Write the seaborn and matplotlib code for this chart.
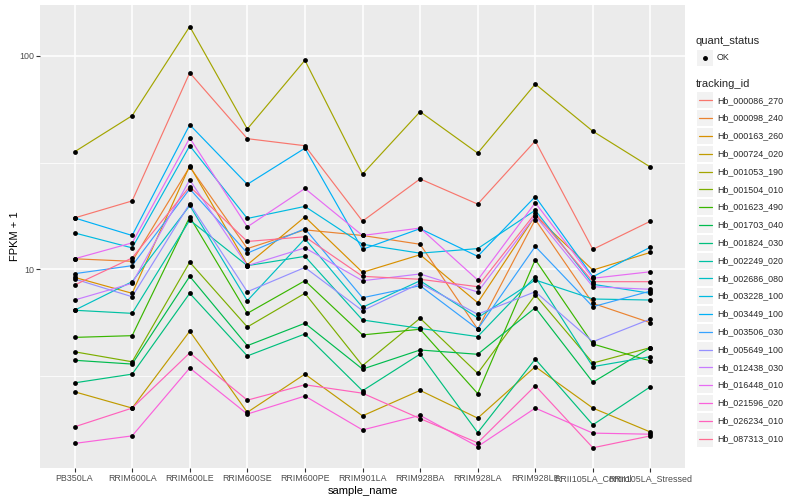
import matplotlib
matplotlib.use("Agg")
import matplotlib.pyplot as plt
from matplotlib.ticker import FixedLocator, NullFormatter
from matplotlib.patches import Rectangle
import pandas as pd
import seaborn as sns

samples = ["PB350LA", "RRIM600LA", "RRIM600LE", "RRIM600SE", "RRIM600PE", "RRIM901LA",
           "RRIM928BA", "RRIM928LA", "RRIM928LE", "RRII105LA_Control", "RRII105LA_Stressed"]

tracking_ids = ["Hb_000086_270", "Hb_000098_240", "Hb_000163_260", "Hb_000724_020", "Hb_001053_190",
                "Hb_001504_010", "Hb_001623_490", "Hb_001703_040", "Hb_001824_030", "Hb_002249_020",
                "Hb_002686_080", "Hb_003228_100", "Hb_003449_100", "Hb_003506_030", "Hb_005649_100",
                "Hb_012438_030", "Hb_016448_010", "Hb_021596_020", "Hb_026234_010", "Hb_087313_010"]

# FPKM + 1, one list per gene, in sample order
hb_000086_270 = [17.4, 20.9, 83.2, 40.9, 37.9, 16.8, 26.5, 20.2, 39.9, 12.4, 16.8]
hb_000098_240 = [11.2, 10.9, 30.2, 12.5, 15.3, 14.4, 13.1, 5.25, 17.1, 6.93, 5.62]
hb_000163_260 = [9.17, 7.72, 30.5, 10.5, 17.6, 9.68, 11.7, 6.98, 17.8, 9.92, 12.0]
hb_000724_020 = [2.67, 2.24, 5.13, 2.14, 3.23, 2.06, 2.71, 2.01, 3.50, 2.24, 1.73]
hb_001053_190 = [35.5, 52.4, 137, 45.4, 95.2, 27.9, 54.7, 35.0, 73.7, 44.3, 30.1]
hb_001504_010 = [4.11, 3.69, 10.8, 5.37, 7.72, 3.54, 5.90, 3.26, 7.58, 3.64, 4.30]
hb_001623_490 = [4.80, 4.89, 17.6, 6.22, 8.84, 4.93, 5.24, 2.62, 11.1, 4.47, 3.72]
hb_001703_040 = [3.75, 3.60, 9.27, 4.39, 5.59, 3.41, 4.19, 4.00, 6.61, 2.96, 4.30]
hb_001824_030 = [2.94, 3.23, 7.72, 3.93, 4.98, 2.70, 4.01, 1.72, 3.80, 1.87, 2.82]
hb_002249_020 = [6.43, 6.22, 17.0, 10.4, 11.5, 5.79, 5.29, 4.84, 9.23, 3.50, 3.90]
hb_002686_080 = [6.43, 8.75, 19.9, 7.13, 13.9, 6.64, 8.84, 5.93, 8.91, 7.26, 7.18]
hb_003228_100 = [14.8, 12.6, 37.9, 17.3, 19.7, 13.1, 11.9, 12.5, 18.9, 8.51, 7.72]
hb_003449_100 = [17.4, 14.4, 47.5, 25.0, 36.9, 12.4, 15.5, 11.5, 21.9, 9.23, 12.7]
hb_003506_030 = [9.54, 10.4, 23.8, 11.9, 15.5, 7.36, 8.38, 5.25, 12.8, 6.68, 7.91]
hb_005649_100 = [9.01, 7.44, 20.3, 7.85, 10.2, 6.40, 8.60, 6.16, 7.85, 4.58, 5.85]
hb_012438_030 = [7.18, 8.60, 26.2, 10.4, 12.6, 8.84, 9.51, 7.83, 17.8, 8.29, 8.06]
hb_016448_010 = [11.2, 13.3, 41.2, 15.8, 23.9, 14.4, 15.6, 8.91, 20.5, 9.08, 9.74]
hb_021596_020 = [1.53, 1.66, 3.45, 2.10, 2.55, 1.77, 2.07, 1.48, 2.24, 1.71, 1.69]
hb_026234_010 = [1.83, 2.24, 4.06, 2.44, 2.88, 2.63, 2.00, 1.54, 2.85, 1.46, 1.66]
hb_087313_010 = [8.44, 11.3, 24.4, 13.5, 14.2, 9.27, 8.98, 8.29, 18.3, 8.75, 8.75]

series = [hb_000086_270, hb_000098_240, hb_000163_260, hb_000724_020, hb_001053_190,
          hb_001504_010, hb_001623_490, hb_001703_040, hb_001824_030, hb_002249_020,
          hb_002686_080, hb_003228_100, hb_003449_100, hb_003506_030, hb_005649_100,
          hb_012438_030, hb_016448_010, hb_021596_020, hb_026234_010, hb_087313_010]

# ggplot2 default hue palette for 20 levels
hue_colors = ["#F8766D", "#EA8331", "#D89000", "#C09B00", "#A3A500", "#7CAE00", "#39B600",
              "#00BB4E", "#00BF7D", "#00C1A3", "#00BFC4", "#00BAE0", "#00B0F6", "#35A2FF",
              "#9590FF", "#C77CFF", "#E76BF3", "#FA62DB", "#FF62BC", "#FF6C91"]

rows = []
for tid, vals in zip(tracking_ids, series):
    for s, v in zip(samples, vals):
        rows.append({"tracking_id": tid, "sample_name": s, "fpkm": v, "quant_status": "OK"})
df = pd.DataFrame(rows)

sns.set_theme(style="darkgrid", rc={"axes.facecolor": "#EBEBEB", "grid.color": "white",
                                    "figure.facecolor": "white"})
plt.rcParams["font.family"] = ["Liberation Sans", "DejaVu Sans"]

fig = plt.figure(figsize=(8, 5), dpi=100)
ax = fig.add_axes([40 / 800, 32 / 500, 645 / 800, 463 / 500])

sns.lineplot(data=df, x="sample_name", y="fpkm", hue="tracking_id", hue_order=tracking_ids,
             palette=hue_colors, sort=False, estimator=None, linewidth=0.85, legend=False, ax=ax)
sns.scatterplot(data=df, x="sample_name", y="fpkm", color="black", s=12, linewidth=0,
                legend=False, ax=ax, zorder=3)

ax.set_yscale("log")
ax.set_ylim(1.174, 172.8)
ax.set_xlim(-0.6, len(samples) - 0.4)
ax.set_yticks([10, 100])
ax.set_yticklabels(["10", "100"])
ax.yaxis.set_minor_locator(FixedLocator([10 ** 0.5, 10 ** 1.5]))
ax.yaxis.set_minor_formatter(NullFormatter())
ax.grid(which="major", color="white", linewidth=1.1)
ax.grid(which="minor", axis="y", color="white", linewidth=0.55)
ax.tick_params(which="major", bottom=True, left=True, length=2.75, width=0.8, color="#333333",
               labelcolor="#4D4D4D", labelsize=6.4, pad=1.5)
ax.tick_params(which="minor", length=0)
for sp in ax.spines.values():
    sp.set_visible(False)
ax.set_xlabel("sample_name", fontsize=8, labelpad=2, color="black")
ax.set_ylabel("FPKM + 1", fontsize=8, labelpad=-0.5, color="black")

# legend drawn in pixel coordinates on an overlay
lg = fig.add_axes([0, 0, 1, 1], facecolor="none")
lg.set_xlim(0, 800)
lg.set_ylim(500, 0)
lg.axis("off")

lg.text(696, 41, "quant_status", fontsize=8, va="center", ha="left")
lg.add_patch(Rectangle((697, 50), 16, 16, facecolor="#F2F2F2", edgecolor="none"))
lg.plot([705], [58], marker="o", color="black", markersize=2.5)
lg.text(717, 58, "OK", fontsize=6.4, va="center", ha="left")

lg.text(696, 84, "tracking_id", fontsize=8, va="center", ha="left")
for i, (tid, col) in enumerate(zip(tracking_ids, hue_colors)):
    yc = 100.3 + 17.8 * i
    lg.add_patch(Rectangle((697, yc - 8), 16, 16, facecolor="#F2F2F2", edgecolor="none"))
    lg.plot([698.5, 711.5], [yc, yc], color=col, linewidth=0.9)
    lg.text(717, yc, tid, fontsize=6.4, va="center", ha="left")

fig.savefig("out.png", dpi=100)
